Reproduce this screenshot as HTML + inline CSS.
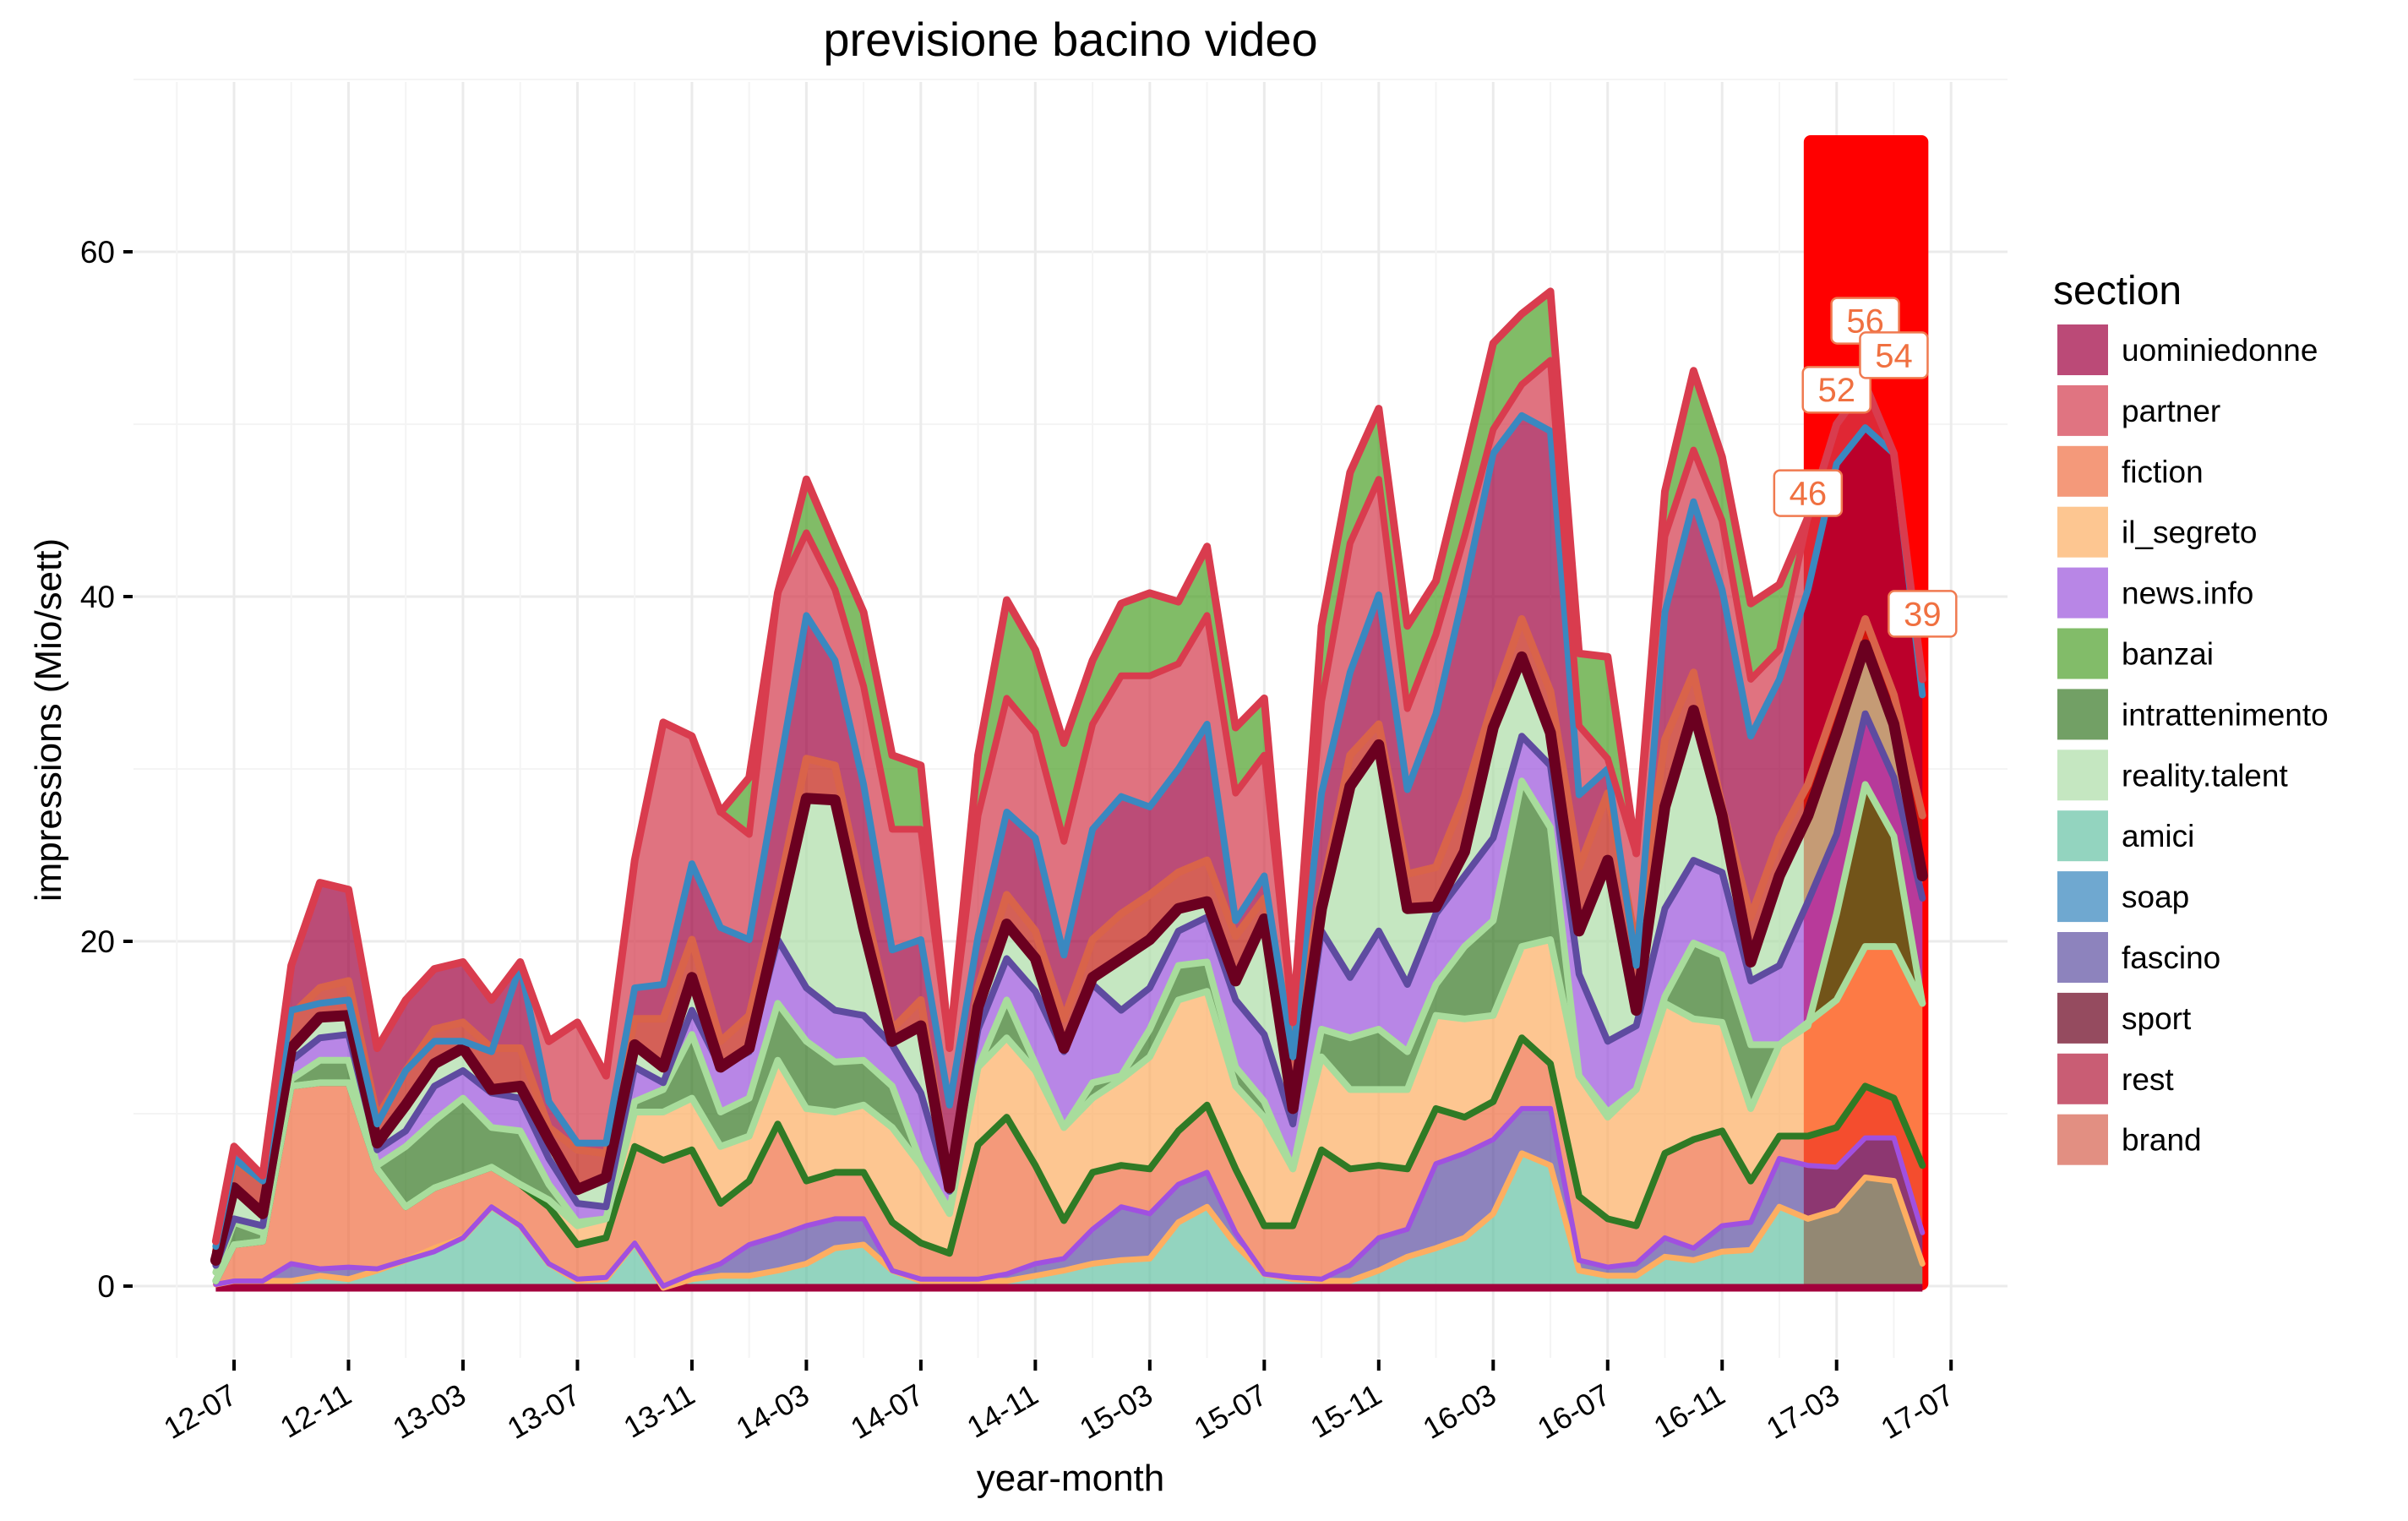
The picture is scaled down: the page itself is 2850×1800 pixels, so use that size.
<!DOCTYPE html>
<html><head><meta charset="utf-8"><style>
html,body{margin:0;padding:0;background:#fff;}
svg{display:block;font-family:"Liberation Sans",Arial,sans-serif;}
</style></head><body>
<svg id="chart" width="2850" height="1800" viewBox="0 0 2850 1800" xmlns="http://www.w3.org/2000/svg">
<rect x="0" y="0" width="2850" height="1800" fill="#fff"/>
<g id="grid"></g>
<g id="forecast"></g>
<g id="bands"></g>
<g id="lines"></g>
<g id="labels"></g>
<g id="axes"></g>
<text x="1267" y="66" font-size="56" text-anchor="middle" fill="#000">previsione bacino video</text>
<text x="0" y="0" font-size="44" text-anchor="middle" fill="#000" transform="translate(72,852) rotate(-90)">impressions (Mio/sett)</text>
<text x="1267" y="1764" font-size="44" text-anchor="middle" fill="#000">year-month</text>
<g id="legend"></g>
</svg>
<script>
// ---- data (cumulative stacked boundaries) ----
const categories = ["2012-06-12"];
for (let y = 2012; y <= 2017; y++) for (let mo = 1; mo <= 12; mo++) {
  if ((y === 2012 && mo < 7) || (y === 2017 && mo > 6)) continue;
  categories.push(y + "-" + String(mo).padStart(2, "0"));
}
const amiciTop   = [0.1,0.3,0.3,0.3,0.6,0.4,0.9,1.5,2.2,2.8,4.6,3.5,1.3,0.3,0.4,2.5,-0.1,0.4,0.6,0.6,0.9,1.3,2.2,2.4,0.9,0.3,0.3,0.3,0.3,0.6,0.9,1.3,1.5,1.6,3.7,4.6,2.4,0.7,0.4,0.3,0.3,0.9,1.7,2.2,2.8,4.2,7.7,7.0,0.9,0.6,0.6,1.7,1.5,2.0,2.1,4.6,3.9,4.4,6.3,6.1,1.3];
const fascinoTop = [0.1,0.3,0.3,1.3,1.0,1.1,1.0,1.5,2.0,2.8,4.6,3.5,1.3,0.4,0.5,2.5,0.0,0.7,1.3,2.4,2.9,3.5,3.9,3.9,0.9,0.4,0.4,0.4,0.7,1.3,1.6,3.3,4.6,4.2,5.9,6.6,3.1,0.7,0.5,0.4,1.2,2.8,3.3,7.1,7.7,8.5,10.3,10.3,1.5,1.1,1.3,2.8,2.2,3.5,3.7,7.4,7.0,6.9,8.6,8.6,3.1];
const fictionTop = [0.3,2.4,2.6,11.6,11.8,11.8,6.8,4.6,5.7,6.3,6.9,5.9,4.6,2.4,2.8,8.1,7.3,7.9,4.8,6.1,9.4,6.1,6.6,6.6,3.7,2.5,1.9,8.2,9.8,7.0,3.8,6.6,7.0,6.8,9.0,10.5,6.8,3.5,3.5,7.9,6.8,7.0,6.8,10.3,9.8,10.7,14.4,12.9,5.2,3.9,3.5,7.7,8.5,9.0,6.1,8.7,8.7,9.2,11.6,10.9,7.0];
const segretoTop = [0.3,2.4,2.6,11.6,11.8,11.8,6.8,4.6,5.7,6.3,6.9,5.9,5.0,3.5,3.9,10.1,10.1,10.9,8.1,8.7,13.1,10.3,10.1,10.5,9.2,7.0,4.2,12.7,14.4,12.5,9.2,10.9,12.0,13.3,16.6,17.1,11.6,9.8,6.8,13.3,11.4,11.4,11.4,15.7,15.5,15.7,19.7,20.1,12.2,9.8,11.4,16.4,15.5,15.3,10.3,14.0,15.3,16.6,19.7,19.7,16.4];
const intrattTop = [0.8,3.7,3.1,12.0,13.1,13.1,7.0,8.1,9.6,10.9,9.2,9.0,5.9,3.7,3.9,10.7,11.4,14.6,10.1,10.9,16.4,14.2,13.0,13.1,11.6,7.2,4.4,12.7,16.6,12.9,9.2,11.8,12.2,14.9,18.6,18.8,12.7,10.7,6.8,14.9,14.4,14.9,13.6,17.5,19.7,21.2,29.3,26.6,12.2,10.1,11.4,16.8,19.9,19.2,14.0,14.0,15.1,21.6,29.1,26.1,16.4];
const newsTop    = [1.2,3.9,3.5,13.1,14.4,14.6,7.9,9.0,11.6,12.5,11.2,10.9,7.4,4.8,4.6,12.7,11.8,16.0,12.7,13.6,20.1,17.3,16.0,15.7,14.0,11.2,5.5,14.9,19.0,17.1,13.6,17.5,16.0,17.3,20.6,21.4,16.6,14.6,9.4,20.6,17.9,20.6,17.5,21.6,23.8,26.0,31.9,30.2,18.1,14.2,15.1,21.9,24.7,24.0,17.7,18.6,22.3,26.2,33.2,29.5,22.5];
const realityTop = [1.5,5.7,4.2,13.8,15.6,15.7,8.3,10.5,12.9,13.8,11.4,11.6,8.5,5.6,6.3,14.0,12.7,17.9,12.7,13.8,21.0,28.3,28.2,20.8,14.2,15.1,5.7,16.2,21.0,19.0,13.8,17.9,19.0,20.1,21.9,22.3,17.7,21.3,10.3,21.9,29.0,31.4,21.9,22.0,25.2,32.4,36.5,32.1,20.6,24.7,16.0,27.8,33.4,27.3,18.8,23.8,27.3,32.1,37.2,32.6,23.8];
const restTop    = [2.0,7.2,6.1,15.7,17.3,17.7,9.8,12.5,14.9,15.3,13.8,13.8,9.2,7.9,7.7,15.5,15.5,20.1,14.2,15.7,22.7,30.6,30.2,22.5,14.9,16.6,5.9,17.3,22.7,20.6,15.5,20.1,21.6,22.7,24.0,24.7,20.3,22.5,14.2,22.7,30.8,32.6,23.9,24.3,28.4,33.9,38.7,34.5,24.3,28.6,19.7,31.7,35.6,27.8,21.4,26.0,29.1,33.9,38.7,34.3,27.3];
const uominiTop  = [2.6,8.1,6.4,18.6,23.4,23.0,13.8,16.6,18.4,18.8,16.6,18.8,10.7,8.3,8.3,17.3,17.5,24.5,20.8,20.1,29.5,38.9,36.3,29.1,19.5,20.1,10.5,20.3,27.5,26.0,19.2,26.5,28.4,27.8,30.0,32.6,21.2,23.8,13.3,28.6,35.6,40.1,28.8,33.2,40.4,48.3,50.5,49.6,28.5,30.0,18.6,39.1,45.5,40.4,31.9,35.2,40.4,47.7,49.8,48.3,34.3];
const soapLine   = [2.3,7.4,6.1,16.0,16.4,16.6,9.4,12.5,14.2,14.2,13.6,18.6,10.7,8.3,8.3,17.3,17.5,24.5,20.8,20.1,29.5,38.9,36.3,29.1,19.5,20.1,10.5,20.3,27.5,26.0,19.2,26.5,28.4,27.8,30.0,32.6,21.2,23.8,13.3,28.6,35.6,40.1,28.8,33.2,40.4,48.3,50.5,49.6,28.5,30.0,18.6,39.1,45.5,40.4,31.9,35.2,40.4,47.7,49.8,48.3,34.3];
const partnerTop = [2.6,8.1,6.4,18.6,23.4,23.0,13.8,16.6,18.4,18.8,16.6,18.8,14.2,15.3,12.2,24.7,32.7,31.9,27.5,26.2,40.2,43.7,40.4,34.8,26.5,26.5,13.8,27.3,34.1,32.1,25.8,32.6,35.4,35.4,36.1,38.9,28.6,30.8,15.3,33.9,43.1,46.8,33.5,37.8,43.5,49.7,52.3,53.7,32.5,30.6,25.1,43.5,48.5,44.4,35.2,36.9,44.6,50.0,52.3,48.3,35.2];
const banzaiTop  = [2.6,8.1,6.4,18.6,23.4,23.0,13.8,16.6,18.4,18.8,16.6,18.8,14.2,15.3,12.2,24.7,32.7,31.9,27.5,29.5,40.2,46.8,42.9,39.1,30.8,30.2,13.8,30.8,39.8,36.9,31.5,36.3,39.6,40.2,39.7,42.9,32.4,34.1,15.3,38.3,47.2,50.9,38.3,40.9,47.7,54.7,56.4,57.7,36.7,36.5,25.1,46.1,53.1,48.1,39.6,40.7,44.6,50.0,52.3,48.3,35.2];
const forecastCats   = ["2017-02","2017-03","2017-04","2017-05","2017-06"];
const forecastValues = [46, 52, 56, 54, 39];
const yTicks = [0, 20, 40, 60];
const xTickLabels = ["12-07","12-11","13-03","13-07","13-11","14-03","14-07","14-11","15-03","15-07","15-11","16-03","16-07","16-11","17-03","17-07"];
const legendNames = ["uominiedonne","partner","fiction","il_segreto","news.info","banzai","intrattenimento","reality.talent","amici","soap","fascino","sport","rest","brand"];
const legendColors = ["#bb4a77","#e07481","#f4997a","#fdc691","#b886e6","#82bc69","#72a065","#c5e7c1","#93d4bf","#6fa8d0","#8d83bd","#954b5f","#c95d74","#e28f82"];

// ---- scales ----
const PL = 158, PR = 2376, PT = 97, PB = 1607;
function monthIndex(s) {
  const p = s.split("-").map(Number);
  let m = (p[0] - 2012) * 12 + (p[1] - 7);
  if (p.length > 2) m += (p[2] - 1) / 30.44;
  return m;
}
function x(s) { return 277 + 33.87 * monthIndex(s); }
function y(v) { return 1522 - 20.4 * v; }
const NS = "http://www.w3.org/2000/svg";
function mk(tag, attrs, parent) {
  const e = document.createElementNS(NS, tag);
  for (const k in attrs) e.setAttribute(k, attrs[k]);
  parent.appendChild(e);
  return e;
}

// ---- grid ----
const grid = document.getElementById("grid");
for (let v = -0; v <= 70; v += 10) {
  const ln = mk("line", {x1: PL, x2: PR, y1: y(v), y2: y(v), stroke: v % 20 === 0 ? "#ebebeb" : "#f4f4f4", "stroke-width": v % 20 === 0 ? 3 : 2}, grid);
  
  
}
for (let i = 0; i < xTickLabels.length; i++) {
  const parts = xTickLabels[i].split("-");
  const cat = "20" + parts[0] + "-" + parts[1];
  const gx = x(cat);
  const ln = mk("line", {x1: gx, x2: gx, y1: PT, y2: PB, stroke: "#ebebeb", "stroke-width": 3}, grid);
  
  
  if (i < xTickLabels.length - 1) {
    const mx = gx + 2 * 33.87;
    const ln2 = mk("line", {x1: mx, x2: mx, y1: PT, y2: PB, stroke: "#f4f4f4", "stroke-width": 2}, grid);
    
    
  }
}
{
  const mx = x("2012-07") - 2 * 33.87;
  const ln2 = mk("line", {x1: mx, x2: mx, y1: PT, y2: PB, stroke: "#f4f4f4", "stroke-width": 2}, grid);
  
  
}

// ---- forecast highlight ----
const fc = document.getElementById("forecast");
{
  const x0 = x(forecastCats[0]) - 5, x1 = x(forecastCats[forecastCats.length - 1]) + 7;
  const r = mk("rect", {x: x0, y: 160, width: x1 - x0, height: y(0) + 5 - 160, rx: 8, fill: "#ff0000"}, fc);
  
  
}

// ---- bands ----
const zero = categories.map(() => 0);
const bandsDef = [
  ["amici-band", zero, amiciTop, "#65c2a4"],
  ["fascino-band", amiciTop, fascinoTop, "#5c4ea1"],
  ["fiction-band", fascinoTop, fictionTop, "#ef6d41"],
  ["il-segreto-band", fictionTop, segretoTop, "#fcae62"],
  ["intrattenimento-band", segretoTop, intrattTop, "#367723"],
  ["news-info-band", intrattTop, newsTop, "#9a52db"],
  ["reality-talent-band", newsTop, realityTop, "#acdda6"],
  ["rest-band", realityTop, restTop, "#c21c10"],
  ["uominiedonne-band", restTop, uominiTop, "#9e003d"],
  ["partner-band", uominiTop, partnerTop, "#d3384a"],
  ["banzai-band", partnerTop, banzaiTop, "#4c9f27"]
];
const bandsG = document.getElementById("bands");
function pts(arr) { return categories.map((c, i) => x(c).toFixed(1) + "," + y(arr[i]).toFixed(1)); }
bandsDef.forEach(b => {
  const lower = pts(b[1]).reverse(), upper = pts(b[2]);
  const p = mk("polygon", {points: upper.concat(lower).join(" "), fill: b[3], "fill-opacity": 0.7}, bandsG);
  
  
});

// ---- lines ----
const linesG = document.getElementById("lines");
{
  const base = mk("line", {x1: x(categories[0]), x2: x(categories[categories.length - 1]), y1: y(0) + 2, y2: y(0) + 2, stroke: "#a3003c", "stroke-width": 9}, linesG);
  
  
}
const linesDef = [
  ["amici-line", amiciTop, "#fdae61", 7],
  ["fascino-line", fascinoTop, "#a050e0", 6],
  ["fiction-line", fictionTop, "#2f7a25", 8],
  ["il-segreto-line", segretoTop, "#a8dc9c", 8],
  ["intrattenimento-line", intrattTop, "#a8dc9c", 8],
  ["news-info-line", newsTop, "#5e4ba0", 8],
  ["rest-line", restTop, "#d9634a", 9],
  ["reality-talent-line", realityTop, "#6b0020", 13],
  ["soap-line", soapLine, "#3a88c0", 8],
  ["partner-line", partnerTop, "#d93c4e", 8],
  ["banzai-line", banzaiTop, "#d93c4e", 9]
];
linesDef.forEach(l => {
  const pl = mk("polyline", {points: pts(l[1]).join(" "), fill: "none", stroke: l[2], "stroke-width": l[3], "stroke-linejoin": "round", "stroke-linecap": "round"}, linesG);
  
  
});

// ---- forecast labels ----
const lab = document.getElementById("labels");
forecastCats.forEach((c, i) => {
  const cx = x(c), cy = y(forecastValues[i]);
  const g = mk("g", {}, lab);
  
  
  mk("rect", {x: cx - 40, y: cy - 27, width: 80, height: 54, rx: 7, fill: "#fff", stroke: "#f07a50", "stroke-width": 2.5}, g);
  const t = mk("text", {x: cx, y: cy + 14, "font-size": 40, "text-anchor": "middle", fill: "#f07040"}, g);
  t.textContent = String(forecastValues[i]);
});

// ---- axes ----
const ax = document.getElementById("axes");
yTicks.forEach(v => {
  const tk = mk("line", {x1: 146, x2: 157, y1: y(v), y2: y(v), stroke: "#000", "stroke-width": 4}, ax);
  
  
  const t = mk("text", {x: 136, y: y(v) + 13, "font-size": 37, "text-anchor": "end", fill: "#000"}, ax);
  
  
  t.textContent = String(v);
});
xTickLabels.forEach(s => {
  const parts = s.split("-");
  const tx = x("20" + parts[0] + "-" + parts[1]);
  const tk = mk("line", {x1: tx, x2: tx, y1: 1609, y2: 1622, stroke: "#000", "stroke-width": 4}, ax);
  
  
  const t = mk("text", {x: 0, y: 0, "font-size": 36, "text-anchor": "end", fill: "#000", transform: "translate(" + (tx + 6) + ",1658) rotate(-30)"}, ax);
  
  
  t.textContent = s;
});

// ---- legend ----
const lg = document.getElementById("legend");
{
  const t = mk("text", {x: 2430, y: 360, "font-size": 48, fill: "#000"}, lg);
  
  
  t.textContent = "section";
}
legendNames.forEach((n, i) => {
  const ky = 384 + i * 71.9;
  const g = mk("g", {}, lg);
  
  
  mk("rect", {x: 2435, y: ky, width: 60, height: 60, fill: legendColors[i]}, g);
  const t = mk("text", {x: 2511, y: ky + 43, "font-size": 37, fill: "#000"}, g);
  t.textContent = n;
});
</script>
</body></html>
